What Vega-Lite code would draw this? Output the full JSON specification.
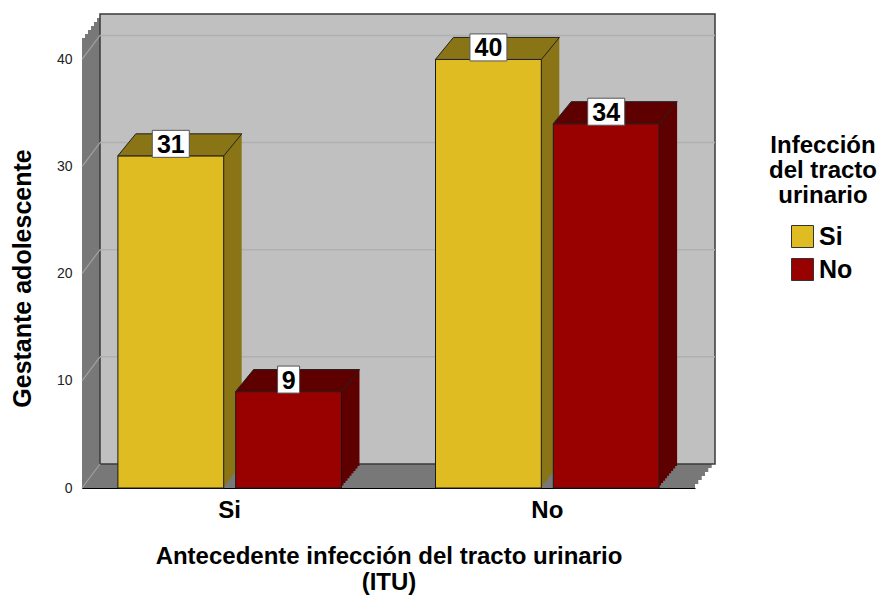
{
  "$schema": "https://vega.github.io/schema/vega-lite/v6.json",
  "width": 613,
  "height": 450,
  "autosize": {"type": "none"},
  "padding": {"left": 82, "top": 38, "right": 189, "bottom": 109},
  "background": "white",
  "datasets": {
    "bars": [
      {"antecedente": "Si", "itu": "Si", "n": 31},
      {"antecedente": "Si", "itu": "No", "n": 9},
      {"antecedente": "No", "itu": "Si", "n": 40},
      {"antecedente": "No", "itu": "No", "n": 34}
    ],
    "frame": [{"lo": 0, "hi": 42}],
    "grid": [{"v": 0}, {"v": 10}, {"v": 20}, {"v": 30}, {"v": 40}]
  },
  "data": {"name": "bars"},
  "config": {
    "view": {"stroke": null},
    "font": "Liberation Sans",
    "axisY": {"grid": false, "ticks": false, "domainColor": "#000000", "domainWidth": 1, "labelFont": "Liberation Sans", "labelFontSize": 14, "labelColor": "#222222", "labelPadding": 10, "titleFont": "Liberation Sans", "titleFontSize": 25, "titleFontWeight": "bold", "titleColor": "#000000", "titlePadding": 21},
    "axisX": {"grid": false, "ticks": false, "domainColor": "#000000", "domainWidth": 1, "labelFont": "Liberation Sans", "labelFontSize": 24, "labelFontWeight": "bold", "labelColor": "#000000", "labelPadding": 10, "labelAngle": 0, "titleFont": "Liberation Sans", "titleFontSize": 24, "titleFontWeight": "bold", "titleColor": "#000000", "titlePadding": 22, "titleLineHeight": 26}
  },
  "resolve": {"scale": {"xOffset": "independent"}},
  "layer": [
    {"data": {"name": "frame"}, "mark": {"type": "rect", "fill": "#787878", "xOffset": 0, "x2Offset": 0, "yOffset": 0, "y2Offset": 0},
     "encoding": {"x": {"value": 0}, "x2": {"value": "width"}, "y": {"field": "lo", "type": "quantitative", "scale": {"domain": [0, 42], "nice": false, "zero": true}}, "y2": {"field": "hi"}}},
    {"data": {"name": "frame"}, "mark": {"type": "rect", "fill": "#787878", "xOffset": 3, "x2Offset": 3.3, "yOffset": -4, "y2Offset": -4},
     "encoding": {"x": {"value": 0}, "x2": {"value": "width"}, "y": {"field": "lo", "type": "quantitative"}, "y2": {"field": "hi"}}},
    {"data": {"name": "frame"}, "mark": {"type": "rect", "fill": "#787878", "xOffset": 6, "x2Offset": 6.7, "yOffset": -8, "y2Offset": -8},
     "encoding": {"x": {"value": 0}, "x2": {"value": "width"}, "y": {"field": "lo", "type": "quantitative"}, "y2": {"field": "hi"}}},
    {"data": {"name": "frame"}, "mark": {"type": "rect", "fill": "#787878", "xOffset": 9, "x2Offset": 10, "yOffset": -12, "y2Offset": -12},
     "encoding": {"x": {"value": 0}, "x2": {"value": "width"}, "y": {"field": "lo", "type": "quantitative"}, "y2": {"field": "hi"}}},
    {"data": {"name": "frame"}, "mark": {"type": "rect", "fill": "#787878", "xOffset": 12, "x2Offset": 13.3, "yOffset": -16, "y2Offset": -16},
     "encoding": {"x": {"value": 0}, "x2": {"value": "width"}, "y": {"field": "lo", "type": "quantitative"}, "y2": {"field": "hi"}}},
    {"data": {"name": "frame"}, "mark": {"type": "rect", "fill": "#787878", "xOffset": 15, "x2Offset": 16.7, "yOffset": -20, "y2Offset": -20},
     "encoding": {"x": {"value": 0}, "x2": {"value": "width"}, "y": {"field": "lo", "type": "quantitative"}, "y2": {"field": "hi"}}},
    {"data": {"name": "frame"}, "mark": {"type": "rect", "fill": "#C0C0C0", "stroke": "#3a3a3a", "strokeWidth": 1.5, "xOffset": 18, "x2Offset": 20, "yOffset": -24, "y2Offset": -24},
     "encoding": {"x": {"value": 0}, "x2": {"value": "width"}, "y": {"field": "lo", "type": "quantitative"}, "y2": {"field": "hi"}}},
    {"data": {"name": "grid"}, "transform": [{"filter": "datum.v > 0"}], "mark": {"type": "rule", "stroke": "#B0B0B0", "strokeWidth": 1.5, "xOffset": 18, "x2Offset": 20, "yOffset": -24},
     "encoding": {"x": {"value": 0}, "x2": {"value": "width"}, "y": {"field": "v", "type": "quantitative"}}},
    {"data": {"name": "grid"}, "mark": {"type": "point", "shape": "M 0 0 L 18 -24", "size": 4, "filled": false, "opacity": 1, "stroke": "#A0A0A0", "strokeWidth": 1.2},
     "encoding": {"x": {"value": 0}, "y": {"field": "v", "type": "quantitative"}}},

    {"mark": {"type": "bar", "yOffset": -22, "y2Offset": -22},
     "encoding": {"x": {"field": "antecedente", "type": "nominal"}, "xOffset": {"field": "itu", "type": "nominal", "scale": {"domain": ["Si", "No"], "paddingInner": 0.1017, "paddingOuter": 0, "range": [18, 241.6]}}, "y": {"field": "n", "type": "quantitative"}, "y2": {"datum": 0}, "fill": {"condition": {"test": "datum.itu === 'Si'", "value": "#8A7516"}, "value": "#5E0000"}}},
    {"mark": {"type": "bar", "yOffset": -19.56, "y2Offset": -19.56},
     "encoding": {"x": {"field": "antecedente", "type": "nominal"}, "xOffset": {"field": "itu", "type": "nominal", "scale": {"domain": ["Si", "No"], "paddingInner": 0.1017, "paddingOuter": 0, "range": [16, 239.6]}}, "y": {"field": "n", "type": "quantitative"}, "y2": {"datum": 0}, "fill": {"condition": {"test": "datum.itu === 'Si'", "value": "#8A7516"}, "value": "#5E0000"}}},
    {"mark": {"type": "bar", "yOffset": -17.11, "y2Offset": -17.11},
     "encoding": {"x": {"field": "antecedente", "type": "nominal"}, "xOffset": {"field": "itu", "type": "nominal", "scale": {"domain": ["Si", "No"], "paddingInner": 0.1017, "paddingOuter": 0, "range": [14, 237.6]}}, "y": {"field": "n", "type": "quantitative"}, "y2": {"datum": 0}, "fill": {"condition": {"test": "datum.itu === 'Si'", "value": "#8A7516"}, "value": "#5E0000"}}},
    {"mark": {"type": "bar", "yOffset": -14.67, "y2Offset": -14.67},
     "encoding": {"x": {"field": "antecedente", "type": "nominal"}, "xOffset": {"field": "itu", "type": "nominal", "scale": {"domain": ["Si", "No"], "paddingInner": 0.1017, "paddingOuter": 0, "range": [12, 235.6]}}, "y": {"field": "n", "type": "quantitative"}, "y2": {"datum": 0}, "fill": {"condition": {"test": "datum.itu === 'Si'", "value": "#8A7516"}, "value": "#5E0000"}}},
    {"mark": {"type": "bar", "yOffset": -12.22, "y2Offset": -12.22},
     "encoding": {"x": {"field": "antecedente", "type": "nominal"}, "xOffset": {"field": "itu", "type": "nominal", "scale": {"domain": ["Si", "No"], "paddingInner": 0.1017, "paddingOuter": 0, "range": [10, 233.6]}}, "y": {"field": "n", "type": "quantitative"}, "y2": {"datum": 0}, "fill": {"condition": {"test": "datum.itu === 'Si'", "value": "#8A7516"}, "value": "#5E0000"}}},
    {"mark": {"type": "bar", "yOffset": -9.78, "y2Offset": -9.78},
     "encoding": {"x": {"field": "antecedente", "type": "nominal"}, "xOffset": {"field": "itu", "type": "nominal", "scale": {"domain": ["Si", "No"], "paddingInner": 0.1017, "paddingOuter": 0, "range": [8, 231.6]}}, "y": {"field": "n", "type": "quantitative"}, "y2": {"datum": 0}, "fill": {"condition": {"test": "datum.itu === 'Si'", "value": "#8A7516"}, "value": "#5E0000"}}},
    {"mark": {"type": "bar", "yOffset": -7.33, "y2Offset": -7.33},
     "encoding": {"x": {"field": "antecedente", "type": "nominal"}, "xOffset": {"field": "itu", "type": "nominal", "scale": {"domain": ["Si", "No"], "paddingInner": 0.1017, "paddingOuter": 0, "range": [6, 229.6]}}, "y": {"field": "n", "type": "quantitative"}, "y2": {"datum": 0}, "fill": {"condition": {"test": "datum.itu === 'Si'", "value": "#8A7516"}, "value": "#5E0000"}}},
    {"mark": {"type": "bar", "yOffset": -4.89, "y2Offset": -4.89},
     "encoding": {"x": {"field": "antecedente", "type": "nominal"}, "xOffset": {"field": "itu", "type": "nominal", "scale": {"domain": ["Si", "No"], "paddingInner": 0.1017, "paddingOuter": 0, "range": [4, 227.6]}}, "y": {"field": "n", "type": "quantitative"}, "y2": {"datum": 0}, "fill": {"condition": {"test": "datum.itu === 'Si'", "value": "#8A7516"}, "value": "#5E0000"}}},
    {"mark": {"type": "bar", "yOffset": -2.44, "y2Offset": -2.44},
     "encoding": {"x": {"field": "antecedente", "type": "nominal"}, "xOffset": {"field": "itu", "type": "nominal", "scale": {"domain": ["Si", "No"], "paddingInner": 0.1017, "paddingOuter": 0, "range": [2, 225.6]}}, "y": {"field": "n", "type": "quantitative"}, "y2": {"datum": 0}, "fill": {"condition": {"test": "datum.itu === 'Si'", "value": "#8A7516"}, "value": "#5E0000"}}},

    {"mark": {"type": "bar", "stroke": "#1a1a1a", "strokeWidth": 1},
     "encoding": {
       "x": {"field": "antecedente", "type": "nominal", "sort": ["Si", "No"], "scale": {"domain": ["Si", "No"], "paddingInner": 0.296, "paddingOuter": 0.113}, "axis": {"title": ["Antecedente infección del tracto urinario", "(ITU)"]}},
       "xOffset": {"field": "itu", "type": "nominal", "scale": {"domain": ["Si", "No"], "paddingInner": 0.1017, "paddingOuter": 0}},
       "y": {"field": "n", "type": "quantitative", "axis": {"title": "Gestante adolescente", "values": [0, 10, 20, 30, 40], "titleY": 240}},
       "y2": {"datum": 0},
       "color": {"field": "itu", "type": "nominal", "scale": {"domain": ["Si", "No"], "range": ["#DFBC21", "#990000"]},
         "legend": {"title": ["Infección", "del tracto", "urinario"], "orient": "none", "legendX": 687, "legendY": 96, "titleFont": "Liberation Sans", "titleFontSize": 24, "titleFontWeight": "bold", "titleColor": "#000000", "titleAlign": "center", "titleAnchor": "middle", "titleLineHeight": 25, "titlePadding": 16, "labelFont": "Liberation Sans", "labelFontSize": 25, "labelFontWeight": "bold", "labelColor": "#000000", "labelOffset": 4, "symbolType": "square", "symbolSize": 484, "symbolStrokeColor": "#333333", "symbolStrokeWidth": 1, "symbolOpacity": 1, "symbolOffset": -4, "rowPadding": 6}}
     }},

    {"mark": {"type": "point", "shape": "M -53 0 L 53 0 L 71 -22 L -35 -22 Z", "size": 4, "filled": true, "opacity": 1, "stroke": "#222222", "strokeWidth": 1},
     "encoding": {"x": {"field": "antecedente", "type": "nominal"}, "xOffset": {"field": "itu", "type": "nominal", "scale": {"type": "point", "domain": ["Si", "No"], "padding": 0, "range": [52.9, 170.7]}}, "y": {"field": "n", "type": "quantitative"}, "fill": {"condition": {"test": "datum.itu === 'Si'", "value": "#8A7516"}, "value": "#5E0000"}}},

    {"transform": [{"filter": "datum.n >= 10"}],
     "mark": {"type": "point", "shape": "M -18.5 -25.5 H 18.5 V 1.5 H -18.5 Z", "size": 4, "filled": true, "opacity": 1, "fill": "#ffffff", "stroke": "#555555", "strokeWidth": 1},
     "encoding": {"x": {"field": "antecedente", "type": "nominal"}, "xOffset": {"field": "itu", "type": "nominal", "scale": {"type": "point", "domain": ["Si", "No"], "padding": 0, "range": [52.9, 170.7]}}, "y": {"field": "n", "type": "quantitative"}}},
    {"transform": [{"filter": "datum.n < 10"}],
     "mark": {"type": "point", "shape": "M -11 -25.5 H 11 V 1.5 H -11 Z", "size": 4, "filled": true, "opacity": 1, "fill": "#ffffff", "stroke": "#555555", "strokeWidth": 1},
     "encoding": {"x": {"field": "antecedente", "type": "nominal"}, "xOffset": {"field": "itu", "type": "nominal", "scale": {"type": "point", "domain": ["Si", "No"], "padding": 0, "range": [52.9, 170.7]}}, "y": {"field": "n", "type": "quantitative"}}},

    {"mark": {"type": "text", "font": "Liberation Sans", "fontSize": 25, "fontWeight": "bold", "color": "#000000", "baseline": "middle", "align": "center", "dy": -11},
     "encoding": {"x": {"field": "antecedente", "type": "nominal"}, "xOffset": {"field": "itu", "type": "nominal", "scale": {"type": "point", "domain": ["Si", "No"], "padding": 0, "range": [52.9, 170.7]}}, "y": {"field": "n", "type": "quantitative"}, "text": {"field": "n", "type": "quantitative"}}}
  ]
}
